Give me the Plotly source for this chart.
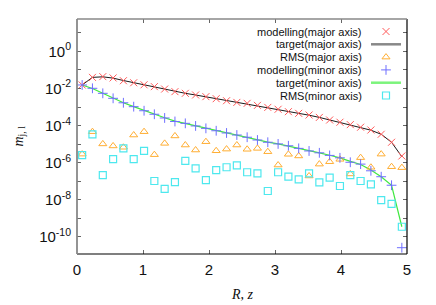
import plotly.graph_objects as go

# radius / height sample positions
r = [0.078, 0.234, 0.391, 0.547, 0.703, 0.859, 1.016, 1.172, 1.328, 1.484, 1.641, 1.797,
     1.953, 2.109, 2.266, 2.422, 2.578, 2.734, 2.891, 3.047, 3.203, 3.359, 3.516, 3.672,
     3.828, 3.984, 4.141, 4.297, 4.453, 4.609, 4.766, 4.922]

# values given as log10(m_{j,l})
major_model_log10 = [-1.81, -1.40, -1.36, -1.43, -1.58, -1.69, -1.80, -1.90, -2.03, -2.17, -2.26, -2.35,
                     -2.44, -2.55, -2.66, -2.75, -2.80, -2.91, -3.02, -3.12, -3.25, -3.34, -3.43, -3.56,
                     -3.70, -3.82, -3.95, -4.09, -4.24, -4.47, -4.90, -5.64]
major_target_log10 = [-1.81, -1.40, -1.37, -1.44, -1.57, -1.69, -1.80, -1.91, -2.03, -2.16, -2.26, -2.35,
                      -2.45, -2.55, -2.65, -2.74, -2.81, -2.91, -3.02, -3.13, -3.24, -3.34, -3.44, -3.56,
                      -3.69, -3.82, -3.95, -4.09, -4.25, -4.47, -4.90, -5.68]
major_rms_log10 = [-5.54, -4.33, -4.99, -5.10, -5.17, -4.51, -4.33, -5.57, -4.96, -4.56, -5.05, -5.32,
                   -4.87, -5.36, -5.27, -5.05, -5.28, -5.23, -5.41, -6.13, -5.55, -5.64, -6.72, -6.08,
                   -5.95, -5.82, -6.61, -5.73, -6.25, -5.54, -6.22, -6.27]
minor_model_log10 = [-1.81, -1.99, -2.26, -2.53, -2.77, -2.98, -3.20, -3.39, -3.59, -3.78, -3.88, -4.02,
                     -4.15, -4.28, -4.40, -4.51, -4.63, -4.78, -4.90, -4.99, -5.09, -5.23, -5.37, -5.47,
                     -5.61, -5.74, -5.98, -6.08, -6.44, -6.76, -7.22, -10.59]
minor_target_log10 = [-1.81, -2.00, -2.26, -2.52, -2.77, -2.98, -3.19, -3.39, -3.58, -3.76, -3.89, -4.02,
                      -4.15, -4.28, -4.40, -4.51, -4.63, -4.77, -4.89, -4.99, -5.10, -5.22, -5.35, -5.47,
                      -5.60, -5.74, -5.93, -6.10, -6.40, -6.76, -7.22, -9.46]
minor_rms_log10 = [-5.59, -4.47, -6.67, -5.81, -5.23, -5.81, -5.37, -6.99, -7.42, -7.05, -5.91, -6.31,
                   -6.94, -6.40, -6.25, -6.15, -6.52, -6.58, -7.53, -6.52, -6.76, -6.90, -6.58, -7.06,
                   -6.81, -7.26, -6.67, -6.99, -7.17, -8.02, -8.23, -9.46]

x_ticks = [0, 1, 2, 3, 4, 5]
y_label_exponents = [-10, -8, -6, -4, -2, 0]
y_minor_exponents = [-9, -7, -5, -3, -1, 1]

legend_labels = ["modelling(major axis)", "target(major axis)", "RMS(major axis)",
                 "modelling(minor axis)", "target(minor axis)", "RMS(minor axis)"]

RED = "#ff5a5a"
BLACK = "#1a1a1a"
ORANGE = "#ffae33"
BLUE = "#6f6fff"
GREEN = "#3fe83f"
CYAN = "#4de8ee"

def v(a):
    return [10 ** e for e in a]

fig = go.Figure()
fig.add_trace(go.Scatter(x=r, y=v(major_target_log10), mode="lines",
                         line=dict(color=BLACK, width=1)))
fig.add_trace(go.Scatter(x=r, y=v(minor_target_log10), mode="lines",
                         line=dict(color=GREEN, width=1.2)))
fig.add_trace(go.Scatter(x=r, y=v(major_rms_log10), mode="markers",
                         marker=dict(symbol="triangle-up-open", size=7, color=ORANGE, line=dict(width=1))))
fig.add_trace(go.Scatter(x=r, y=v(minor_rms_log10), mode="markers",
                         marker=dict(symbol="square-open", size=7, color=CYAN, line=dict(width=1.2))))
fig.add_trace(go.Scatter(x=r, y=v(major_model_log10), mode="markers",
                         marker=dict(symbol="x-thin-open", size=7, color=RED, line=dict(width=1, color=RED))))
fig.add_trace(go.Scatter(x=r, y=v(minor_model_log10), mode="markers",
                         marker=dict(symbol="cross-thin-open", size=7, color=BLUE, line=dict(width=1, color=BLUE))))

# page body has an 8px margin: figure is drawn at (8, 8) in the window
OFF = 8
W, H = 436 - OFF, 305 - OFF
L, R_, T, B = 77 - OFF, 407 - OFF, 19 - OFF, 254 - OFF   # plot area in figure pixels

# gnuplot-style key on an overlay pixel-coordinate axis (text then sample)
row_y = [31.5 - OFF, 44.3 - OFF, 57.1 - OFF, 69.9 - OFF, 82.7 - OFF, 95.5 - OFF]
text_right = 364 - OFF
sample_x0, sample_x1 = 371 - OFF, 401 - OFF
sample_mid = 386 - OFF
styles = [
    ("m", dict(symbol="x-thin-open", size=7, color=RED, line=dict(width=1, color=RED))),
    ("l", dict(color="#888888", width=2.5)),
    ("m", dict(symbol="triangle-up-open", size=7, color=ORANGE, line=dict(width=1))),
    ("m", dict(symbol="cross-thin-open", size=7, color=BLUE, line=dict(width=1, color=BLUE))),
    ("l", dict(color="#7cf47c", width=2.5)),
    ("m", dict(symbol="square-open", size=7, color=CYAN, line=dict(width=1.2))),
]
for lab, yy, (kind, st) in zip(legend_labels, row_y, styles):
    if kind == "m":
        fig.add_trace(go.Scatter(x=[sample_mid], y=[yy], mode="markers", marker=st,
                                 xaxis="x2", yaxis="y2"))
    else:
        fig.add_trace(go.Scatter(x=[sample_x0, sample_x1], y=[yy, yy], mode="lines", line=st,
                                 xaxis="x2", yaxis="y2"))
    fig.add_annotation(x=text_right, y=yy, xref="x2", yref="y2", text=lab, showarrow=False,
                       xanchor="right", yanchor="middle",
                       font=dict(family="Liberation Sans", size=11, color="#111"))

fig.update_layout(
    width=W, height=H,
    margin=dict(l=L, r=W - R_, t=T, b=H - B, pad=0),
    paper_bgcolor="white", plot_bgcolor="white",
    showlegend=False,
    font=dict(family="Liberation Sans", size=15, color="#111"),
    xaxis=dict(range=[0, 5], tickvals=x_ticks, ticktext=[str(t) for t in x_ticks],
               ticks="inside", ticklen=4, tickcolor="#666", mirror="ticks",
               showline=False, showgrid=False, zeroline=False, ticklabelstandoff=5),
    yaxis=dict(type="log", range=[-10.93, 1.75], tickvals=[10 ** k for k in y_label_exponents],
               ticktext=["10<sup>%d</sup>" % k for k in y_label_exponents],
               ticks="inside", ticklen=4, tickcolor="#666", mirror="ticks",
               minor=dict(tickvals=[10 ** k for k in y_minor_exponents], ticks="inside",
                          ticklen=4, tickcolor="#666", showgrid=False),
               showline=False, showgrid=False, zeroline=False, ticklabelstandoff=5),
    xaxis2=dict(range=[L, R_], overlaying="x", visible=False, fixedrange=True),
    yaxis2=dict(range=[B, T], overlaying="y", visible=False, fixedrange=True),
    shapes=[
        dict(type="line", xref="paper", yref="paper", x0=0, x1=1, y0=0, y1=0, line=dict(color="#000", width=1.2)),
        dict(type="line", xref="paper", yref="paper", x0=1, x1=1, y0=0, y1=1, line=dict(color="#000", width=1.2)),
        dict(type="line", xref="paper", yref="paper", x0=0, x1=0, y0=0, y1=1, line=dict(color="#888", width=1.8)),
        dict(type="line", xref="paper", yref="paper", x0=0, x1=1, y0=1, y1=1, line=dict(color="#888", width=1.5)),
    ],
)
fig.add_annotation(text="<i>R</i>, <i>z</i>", xref="paper", yref="paper", x=0.5, y=0,
                   yshift=-40, showarrow=False, xanchor="center", yanchor="middle",
                   font=dict(family="Liberation Serif", size=14, color="#111"))
fig.add_annotation(text="<i>m</i><sub>j, l</sub>", xref="paper", yref="paper", x=0, y=0.5,
                   xshift=-58, showarrow=False, xanchor="center", yanchor="middle", textangle=-90,
                   font=dict(family="Liberation Serif", size=14, color="#111"))

fig.write_html("out.html")
